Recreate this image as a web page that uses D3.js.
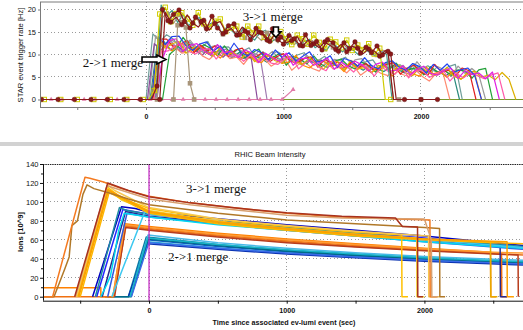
<!DOCTYPE html>
<html>
<head>
<meta charset="utf-8">
<script src="https://cdn.jsdelivr.net/npm/d3@7"></script>
<style>
  body { margin: 0; background: #fff; }
  svg { display: block; font-family: "Liberation Sans", Arial, sans-serif; }
  .grid line { stroke: #9a9a9a; stroke-dasharray: 1,2.5; shape-rendering: crispEdges; }
  .top-axis path, .top-axis line { stroke: #7a7a7a; }
  .bot-axis path, .bot-axis line { stroke: #111; }
  .tick text { fill: #111; }
  .merge { font-family: "Liberation Serif", "Times New Roman", serif; font-size: 13px; fill: #111; }
</style>
</head>
<body>
<svg id="chart" width="523" height="330"></svg>
<script>
// ---- axes / ticks
const timeTicks = [-500, 0, 500, 1000, 1500, 2000, 2500];
const timeLabelled = [0, 1000, 2000];
const rateTicks = [0, 5, 10, 15, 20];
const ionTicks = [0, 20, 40, 60, 80, 100, 120, 140];
const ionMinorTicks = [10, 30, 50, 70, 90, 110, 130];

// ---- STAR event trigger rate [Hz], one reading every `step` s from `start`
const rateBrown = [0,0,0,0,0,0,0,0,0,0,0,0,0,0,0,0,0,0,0,0,0,
  3,20.0,17.5,18.9,19.9,17.3,15.9,18.3,17.3,15.7,18.5,15.9,14.6,16.4,16.8,14.4,15.2,13.3,15.8,14.8,13.2,15.7,13.3,
  12.3,14.2,13.5,12.0,14.4,12.0,12.9,11.0,13.3,12.6,10.7,12.6,11.3,12.8,10.3,11.6,10.4,11.9,9.9,10.7,
  0,0,0,0,0,0,0,0,0];
const rateBrown2 = [0,19.4,17.2,18.3,16.6,18.8,17.0,16.1,17.6,15.4,16.9,17.3,15.0,15.8,14.3,16.1,14.9,13.8,15.0,14.4,
  12.9,14.6,13.9,12.6,13.1,14.0,11.9,13.2,12.4,11.5,12.8,12.0,11.1,12.3,10.6,11.8,11.4,10.2,11.2,10.8,9.6,10.9,10.1,0];
const rateYellow = [0,0,0,0,0,0,0,0,0,0,0,0,0,0,0,0,0,0,0,0,
  2,19.0,20.5,17.3,19.1,19.3,17.9,16.5,19.3,16.8,16.1,17.4,17.9,15.1,15.9,16.3,13.9,16.3,14.8,16.3,13.8,13.2,14.5,
  15.1,13.5,12.2,14.3,13.5,12.3,14.3,12.7,11.3,13.4,12.8,11.5,13.2,10.9,12.1,11.1,12.4,10.1,11.4,0,0];
const rateTeal = [0,21.0,18.6,19.8,17.1,18.9,16.4,17.7,18.2,15.6,16.9,17.4,14.8,16.2,15.1,13.9,16.0,14.3,13.2,14.9,
  15.4,12.8,13.6,14.1,12.2,13.7,11.9,12.9,13.4,11.5,12.4,10.8,12.6,11.7,10.6,11.9,10.9,9.8,11.3,10.4,9.6,10.8,10.0,0];
const rateTan = [0,18.2,19.6,16.9,18.8,17.6,15.8,18.0,17.1,15.2,16.9,15.9,14.5,16.6,14.9,15.3,13.7,15.6,14.2,13.1,
  14.8,13.6,12.6,14.1,13.0,12.2,13.8,11.9,12.7,12.3,11.2,12.9,11.6,10.9,12.1,11.0,11.5,10.3,11.7,10.6,9.9,11.0,10.2,
  0,0,0,0,0,0,0,0];
const rateTanShort = [0,16.5,17.2,16,3.6,0];
const rateBlue = [0,14.0,12.2,14.0,14.1,12.0,10.9,12.3,12.8,10.8,11.9,10.0,12.5,10.5,9.7,11.1,10.4,8.8,11.0,9.4,10.4,
  8.5,9.6,10.6,8.3,8.7,9.7,7.1,9.1,8.6,7.4,9.3,7.5,6.8,8.2,8.6,7.2,6.5,8.0,7.3,5.9,7.8,6.5,7.9,6.1,6.6,7.0,5.4,0];
const rateMagenta = [0,9,13.1,13.5,10.7,12.0,12.4,10.8,9.9,12.2,10.4,10.7,9.3,11.0,10.3,8.2,10.3,9.2,8.5,10.3,7.6,9.1,
  9.2,7.6,8.3,9.2,6.7,8.3,7.3,8.5,7.7,6.3,7.8,8.3,6.3,6.5,7.5,5.5,6.7,7.4,5.8,5.4,6.5,6.9,4.7,6.4,5.5,5.9,4.6,6.1,0];
const rateOrange = [0,13.6,11.9,10.8,12.3,12.3,10.3,12.3,10.3,10.5,9.2,10.8,10.3,8.9,10.7,8.8,8.2,9.9,9.1,8.0,8.3,9.8,
  7.6,7.0,8.4,8.7,7.4,7.7,6.2,8.3,6.7,7.6,6.0,7.1,7.8,5.2,6.5,7.0,5.7,5.2,7.2,5.7,6.2,4.9,6.5,4.5,5.6,5.9,0];
const rateGreen = [0,10,11.3,13.8,11.7,10.9,12.2,11.4,9.7,11.9,10.2,11.2,9.2,10.3,11.2,8.9,9.3,10.2,7.6,9.6,9.0,7.9,
  9.7,7.9,7.1,8.5,9.0,7.5,6.8,8.3,7.5,6.1,8.0,6.7,8.1,6.2,6.7,7.1,5.5,7.3,6.1,6.5,5.4,6.6,6.3,4.7,6.6,6.9,0];
const rateRed = [0,13.4,13.4,11.7,12.3,13.1,10.4,12.0,10.8,11.9,11.1,9.6,11.0,11.4,9.3,9.5,10.5,8.4,9.5,10.2,8.5,8.1,
  9.1,9.5,7.2,8.9,8.0,8.3,7.0,8.5,7.2,8.0,6.8,6.6,7.8,8.2,5.6,7.0,7.6,6.1,5.4,7.8,6.1,6.5,5.2,7.0,6.4,0];
const rateSalmon = [0,10.8,12.4,11.6,10.3,10.6,11.9,9.7,8.9,10.3,10.5,9.1,9.4,7.8,9.8,8.2,9.1,7.4,8.4,9.1,6.5,7.8,8.2,
  6.9,6.3,8.3,6.8,7.2,5.9,7.5,5.4,6.5,6.8,5.8,5.3,6.8,5.6,5.1,6.6,5.1,4.1,5.8,5.9,0];
const ratePurple = [0,12.4,11.0,12.9,11.6,10.5,12.1,10.8,9.9,11.4,10.6,9.4,10.9,9.8,9.1,10.3,0];
const rateMauve = [0,11.8,13.0,11.3,10.7,12.4,10.9,11.5,9.8,10.6,11.2,9.5,10.0,9.1,10.4,9.6,0];
const rateGray = [0,14.2,11.5,13.4,12.7,11.5,13.2,11.3,10.4,11.7,12.1,10.6,9.8,11.2,10.4,8.9,10.8,9.4,10.7,8.9,9.3,
  9.7,8.0,9.8,8.5,8.9,7.8,8.9,8.6,7.0,8.8,9.1,7.1,6.2,7.7,8.3,6.4,7.6,5.8,8.4,6.5,5.8,7.3,6.6,5.1,7.4,5.8,6.9,5.6,0];
const ratePink = [0,10.6,10.8,11.9,12.4,10.7,10.1,11.1,11.3,9.0,10.6,9.6,9.9,8.5,9.9,8.6,9.4,8.1,7.8,9.0,9.4,6.8,8.1,
  8.7,7.1,6.4,8.8,7.0,7.4,6.1,7.8,7.2,5.2,7.3,6.3,5.6,7.4,4.8,6.3,6.5,4.9,5.7,6.6,4.1,5.8,4.8,6.0,5.3,4.6,5.4,5.9,0];
const rateGold = [0,13.2,11.4,12.4,12.9,10.3,11.4,11.8,10.3,9.7,11.6,10.0,10.4,9.0,10.5,8.4,9.5,9.7,8.6,8.1,9.6,8.4,
  7.8,9.3,7.7,6.7,8.4,8.4,6.6,8.7,6.8,7.1,5.9,7.6,7.2,5.8,7.7,5.9,5.3,7.1,6.4,5.3,5.7,7.2,5.1,4.5,6.0,6.3,5.0,5.4,
  4.4,6.0,4.5,0];
const rateGrayTeal = [0,14.6,12.9,14.4,13.4,11.2,13.1,12.0,11.2,12.9,10.2,11.6,11.7,10.0,10.7,11.5,9.0,10.6,9.5,10.7,
  9.9,8.5,9.9,10.4,8.3,8.6,9.6,7.5,8.7,9.4,7.7,7.3,8.4,8.8,6.6,8.2,7.3,7.7,6.4,7.9,6.7,7.5,6.3,6.1,7.3,7.8,0];
const rateDarkTeal = [0,12.1,12.9,11.0,11.8,10.6,12.3,10.4,11.0,9.6,10.9,9.9,9.3,10.5,8.9,9.8,9.2,8.3,9.6,8.8,8.0,
  9.1,7.7,8.6,8.2,7.3,8.5,7.6,6.9,8.0,7.4,6.5,7.7,6.9,6.2,7.3,6.7,5.9,7.0,6.4,5.6,6.6,6.1,5.3,6.3,0];
const ratePinkZero = [0,0,0,0,0,0,0,0,0,0,0,0,0,0,0,0,0,0,0,0,0,0,0,2.2];
const rateOliveZero = [0,0];

const rateTraces = [
  { key: "pinkZero", start: -770, step: 80, lead: -770, values: ratePinkZero },
  { key: "oliveZero", start: 1000, step: 1742, lead: 1000, values: rateOliveZero },
  { key: "grayTeal", start: 0, step: 50, lead: -771, values: rateGrayTeal },
  { key: "darkTeal", start: 30, step: 50, lead: -771, values: rateDarkTeal },
  { key: "gray", start: 20, step: 50, lead: -771, values: rateGray },
  { key: "purple", start: 10, step: 50, lead: -771, values: ratePurple },
  { key: "mauve", start: 80, step: 50, lead: -771, values: rateMauve },
  { key: "salmon", start: 60, step: 50, lead: -771, values: rateSalmon },
  { key: "green", start: 120, step: 50, lead: -771, values: rateGreen },
  { key: "orange", start: 40, step: 50, lead: -771, values: rateOrange },
  { key: "red", start: 50, step: 50, lead: -771, values: rateRed },
  { key: "gold", start: 40, step: 50, lead: -771, values: rateGold },
  { key: "pink", start: 60, step: 50, lead: -771, values: ratePink },
  { key: "blue", start: 40, step: 50, lead: -771, values: rateBlue },
  { key: "magenta", start: 70, step: 50, lead: -771, values: rateMagenta },
  { key: "teal", start: 70, step: 40, lead: -771, values: rateTeal },
  { key: "tanShort", start: 200, step: 30, lead: 200, values: rateTanShort },
  { key: "tan", start: 80, step: 40, lead: -771, values: rateTan },
  { key: "yellow", start: -740, step: 40, lead: -771, values: rateYellow },
  { key: "brown2", start: 100, step: 40, lead: -771, values: rateBrown2 },
  { key: "brown", start: -760, step: 40, lead: -771, values: rateBrown }
];

// ---- RHIC beam intensity [10^9 ions], [time, ions] readings
const beamTraces = [
  // 2->1 merge fills
  [[-320,0],[-150,0],[-20,63],[500,55],[1000,49],[1500,44.5],[2000,40.5],[2500,37.5],[2716,36.5]],
  [[-145,0],[-15,60],[500,53],[1000,47.5],[1500,43],[2000,39.5],[2500,36.5],[2716,35.5]],
  [[-140,0],[-10,58],[500,51.5],[1000,46],[1500,42],[2000,38.5],[2500,35.5],[2716,34.5]],
  [[-150,0],[-12,56],[500,50],[1000,45],[1500,41],[2000,37.5],[2716,33.5]],
  [[-135,0],[-8,65],[500,57],[1000,51],[1500,46.5],[2000,42.5],[2500,39.5],[2716,38.5]],
  [[-300,0],[-130,0],[-5,61],[500,54],[1000,48],[1500,43.5],[2000,39.5],[2716,35.5]],
  [[-128,0],[-2,57],[500,51],[1000,46],[1500,42],[2000,38.5],[2716,34.5]],
  [[-138,0],[-10,62],[500,55],[1000,49.5],[1500,45],[2000,41],[2716,37]],
  // orange fills
  [[-770,9.5],[-350,9.5],[-350,0],[-262,0],[-178,77],[0,74],[500,67],[1000,61],[1500,56],[2000,51],[2480,47],[2482,0],[2520,0]],
  [[-770,0],[-258,0],[-172,75],[0,72],[500,65],[1000,59],[1500,54],[2000,50],[2500,46],[2560,45.5],[2562,0],[2600,0]],
  [[-255,0],[-168,74],[0,71],[500,64],[1000,58],[1500,53],[2000,49],[2716,44]],
  [[-250,0],[-172,73],[0,70],[500,63],[1000,57],[1500,52.5],[2000,48.5],[2680,44],[2682,0]],
  [[-262,0],[-176,76],[0,73],[500,66],[1000,60],[1500,55],[2000,50.5],[2500,47],[2716,46]],
  // blue / cyan fills
  [[-410,0],[-200,95],[-100,93],[0,89],[300,85],[600,81],[1000,76],[1500,70],[2000,64],[2500,57],[2716,54]],
  [[-380,0],[-190,92],[0,87],[500,80],[1000,74],[1500,68],[2000,62],[2500,55],[2716,52]],
  [[-340,0],[-170,90],[0,85],[500,78],[1000,72],[1500,66],[2000,60],[2550,53],[2552,0],[2600,0]],
  [[-300,0],[-160,88],[0,84],[500,77],[1000,70],[1500,64],[2000,58],[2716,50]],
  [[-390,0],[-215,94],[-160,91],[0,87],[500,80],[1000,73],[1500,67],[2000,61],[2716,53]],
  [[-350,0],[-310,12],[-280,22],[-250,45],[-220,70],[-180,88],[0,84],[500,76],[1000,70],[1500,64],[2000,58],[2716,51]],
  [[-270,0],[-30,90],[0,87],[500,79],[1000,72],[1500,66],[2000,60],[2716,52]],
  // 3->1 merge fills
  [[-530,0],[-305,116],[-200,104],[0,93],[300,86],[600,80],[1000,74],[1500,68],[1835,65],[1837,0],[1880,0]],
  [[-520,0],[-300,114],[-200,102],[0,91],[300,84],[600,78],[1000,72],[1500,66],[1944,62],[1946,0],[2000,0]],
  [[-510,0],[-295,112],[0,89],[500,78],[1000,71],[1500,65],[2000,61],[2480,58],[2482,0],[2530,0]],
  [[-500,0],[-290,110],[0,88],[500,77],[1000,70],[1500,64],[2000,60],[2500,57],[2716,56]],
  [[-525,0],[-300,118],[-250,112],[0,94],[500,82],[1000,75],[1500,69],[2030,64],[2032,0],[2110,0]],
  [[-515,0],[-298,113],[0,90],[500,79],[1000,72],[1500,66],[2000,61],[2600,58],[2602,0],[2650,0]],
  [[-770,0],[-690,0],[-610,30],[-580,42],[-560,75],[-520,80],[-480,108],[-450,118],[-400,114],[-300,110],[-150,103],[0,97],[500,88],[1000,81],[1500,77],[2000,73],[2110,72],[2112,0],[2150,0]],
  [[-770,0],[-700,0],[-465,126],[-430,125],[-330,121],[-200,114],[0,106],[300,99],[600,94],[1000,88],[1400,84],[1800,82],[2040,81],[2042,0],[2090,0]],
  [[-535,0],[-305,117],[0,103],[300,97],[600,92],[1000,86],[1400,83],[2000,82],[2050,60],[2054,0],[2100,0]],
  [[-540,0],[-300,120],[-150,112],[0,105.5],[300,99],[600,94],[1000,88.5],[1400,85],[1790,83],[1840,74],[1950,73.5],[1952,0],[1990,0]]
];

// ---- styles (kept apart from the data)
const rateStyle = {
  pinkZero: { color: "#e07aa8", marker: "tri" },
  oliveZero: { color: "#7a9a2a" },
  grayTeal: { color: "#6f9e9a" }, darkTeal: { color: "#2a8a7c" }, gray: { color: "#9a9a9a" },
  purple: { color: "#8a4a9a" }, mauve: { color: "#a07ab0" }, salmon: { color: "#ff8a70" },
  green: { color: "#22a038" }, orange: { color: "#ff8c00" }, red: { color: "#e02020" },
  gold: { color: "#dcb000" }, pink: { color: "#ff5aaa" }, blue: { color: "#2244ee" },
  magenta: { color: "#e020e0" }, teal: { color: "#3f9a88" },
  tanShort: { color: "#a8957a", marker: "sq" }, tan: { color: "#a8957a", marker: "sq", every: 4 },
  yellow: { color: "#d0cc00", marker: "open", zeroEvery: 3 },
  brown2: { color: "#8b1a1a", marker: "dot", every: 2, zeroEvery: 1000 },
  brown: { color: "#8b1a1a", marker: "dot", zeroEvery: 3 }
};
const beamColors = [
  "#0a7ea0", "#1060c8", "#20a8d8", "#0a32b0", "#48b8e8", "#006a88", "#3a6ae8", "#18b4c8",
  "#ff8000", "#f07010", "#e8701c", "#b83c1c", "#ff9c34",
  "#0000c0", "#2424ff", "#28288c", "#3058e0", "#1e8ca0", "#00d8f0", "#3cc8f0",
  "#ffc000", "#f2d030", "#e8a800", "#ffb400", "#f7c850", "#ffa000",
  "#b07828", "#f47a20", "#d8a070", "#a8321e"
];

const svg = d3.select("#chart");

// ================= top panel: STAR event trigger rate
const xTop = d3.scaleLinear().domain([-771, 2742]).range([40, 523]);
const yTop = d3.scaleLinear().domain([-1.67, 21.67]).range([107, 2]);

svg.append("clipPath").attr("id", "clipTop").append("rect")
  .attr("x", 40).attr("y", 2).attr("width", 483).attr("height", 105);

const gridTop = svg.append("g").attr("class", "grid");
gridTop.selectAll(".h").data(rateTicks.filter(d => d > 0)).enter().append("line")
  .attr("x1", 40).attr("x2", 523).attr("y1", d => yTop(d)).attr("y2", d => yTop(d));
gridTop.selectAll(".v").data(timeLabelled).enter().append("line")
  .attr("x1", d => xTop(d)).attr("x2", d => xTop(d)).attr("y1", 2).attr("y2", 107);

const topPlot = svg.append("g").attr("clip-path", "url(#clipTop)");
const rateLine = d3.line().x(d => xTop(d[0])).y(d => yTop(d[1]));

rateTraces.forEach(tr => {
  const st = rateStyle[tr.key];
  const pts = tr.values.map((v, i) => [tr.start + i * tr.step, v]);
  const path = tr.lead < tr.start ? [[tr.lead, 0]].concat(pts) : pts;
  topPlot.append("path").datum(path)
    .attr("fill", "none").attr("stroke", st.color).attr("stroke-width", 1.2)
    .attr("stroke-linejoin", "round").attr("d", rateLine);
  if (!st.marker) return;
  const marks = pts.filter((d, i) => d[1] === 0
    ? i % (st.zeroEvery || st.every || 1) === 0
    : i % (st.every || 1) === 0);
  const g = topPlot.append("g");
  if (st.marker === "dot") {
    g.selectAll("circle").data(marks).enter().append("circle")
      .attr("cx", d => xTop(d[0])).attr("cy", d => yTop(d[1])).attr("r", 2.3)
      .attr("fill", st.color).attr("stroke", "#5c0c0c").attr("stroke-width", 0.4);
  } else if (st.marker === "open") {
    g.selectAll("rect").data(marks).enter().append("rect")
      .attr("x", d => xTop(d[0]) - 2.2).attr("y", d => yTop(d[1]) - 2.2)
      .attr("width", 4.4).attr("height", 4.4)
      .attr("fill", "none").attr("stroke", st.color).attr("stroke-width", 1);
  } else if (st.marker === "sq") {
    g.selectAll("rect").data(marks).enter().append("rect")
      .attr("x", d => xTop(d[0]) - 2.3).attr("y", d => yTop(d[1]) - 2.3)
      .attr("width", 4.6).attr("height", 4.6).attr("fill", st.color);
  } else if (st.marker === "tri") {
    g.selectAll("path").data(marks).enter().append("path")
      .attr("d", d3.symbol().type(d3.symbolTriangle).size(10))
      .attr("transform", d => `translate(${xTop(d[0])},${yTop(d[1])})`)
      .attr("fill", st.color);
  }
});

// top axes
svg.append("line").attr("x1", 40).attr("x2", 523).attr("y1", 2).attr("y2", 2)
  .attr("stroke", "#7a7a7a");
svg.append("g").attr("class", "top-axis")
  .attr("transform", "translate(0,107)")
  .call(d3.axisBottom(xTop).tickValues(timeTicks).tickSize(3).tickPadding(4)
    .tickFormat(d => timeLabelled.includes(d) ? d : ""))
  .call(g => g.selectAll("text").attr("font-size", 7).attr("font-weight", "bold"))
  .call(g => g.select(".domain").attr("d", "M40,0.5H523"));
svg.append("g").attr("class", "top-axis")
  .attr("transform", "translate(40,0)")
  .call(d3.axisLeft(yTop).tickValues(rateTicks).tickSize(2).tickPadding(2))
  .call(g => g.selectAll("text").attr("font-size", 7.5))
  .call(g => g.select(".domain").attr("d", "M0.5,2V107"));

svg.append("text").attr("transform", "translate(23,55) rotate(-90)")
  .attr("text-anchor", "middle").attr("font-size", 7.6).attr("fill", "#111")
  .text("STAR event trigger rate [Hz]");

// top annotations (placed in data coordinates)
svg.append("text").attr("class", "merge").attr("x", xTop(703)).attr("y", yTop(17.38)).text("3->1 merge");
svg.append("text").attr("class", "merge").attr("x", xTop(-460)).attr("y", yTop(7.33)).text("2->1 merge");
{
  const x0 = xTop(-29), x1 = xTop(145), cy = yTop(8.9), hx = x1 - 9;
  svg.append("path")
    .attr("d", `M${x0},${cy - 2.5}H${hx}V${cy - 4.5}L${x1},${cy}L${hx},${cy + 4.5}V${cy + 2.5}H${x0}Z`)
    .attr("fill", "#fff").attr("stroke", "#000").attr("stroke-width", 1.6);
  const cx = xTop(945), y0 = yTop(16.1), y1 = yTop(13.8), hy = y1 - 5.5;
  svg.append("path")
    .attr("d", `M${cx - 2.5},${y0}V${hy}H${cx - 5}L${cx},${y1}L${cx + 5},${hy}H${cx + 2.5}V${y0}Z`)
    .attr("fill", "#fff").attr("stroke", "#000").attr("stroke-width", 1.6);
}

// separator band
svg.append("rect").attr("x", 0).attr("y", 142).attr("width", 523).attr("height", 4).attr("fill", "#d2d2d2");

// ================= bottom panel: RHIC beam intensity
const xBot = d3.scaleLinear().domain([-770, 2716]).range([43, 523]);
const yBot = d3.scaleLinear().domain([-4.2, 140]).range([300.7, 164]);

svg.append("text").attr("x", 270).attr("y", 156.5).attr("text-anchor", "middle")
  .attr("font-size", 7.6).attr("fill", "#111").text("RHIC Beam Intensity");

svg.append("clipPath").attr("id", "clipBot").append("rect")
  .attr("x", 43).attr("y", 164).attr("width", 480).attr("height", 137);

const gridBot = svg.append("g").attr("class", "grid");
gridBot.selectAll(".h").data(ionTicks.filter(d => d < 140)).enter().append("line")
  .attr("x1", 43).attr("x2", 523).attr("y1", d => yBot(d)).attr("y2", d => yBot(d));
gridBot.selectAll(".v").data(timeLabelled).enter().append("line")
  .attr("x1", d => xBot(d)).attr("x2", d => xBot(d)).attr("y1", 164).attr("y2", 300);

const botPlot = svg.append("g").attr("clip-path", "url(#clipBot)");
const beamLine = d3.line().x(d => xBot(d[0])).y(d => yBot(d[1]));
botPlot.selectAll("path.beam").data(beamTraces).enter().append("path")
  .attr("class", "beam").attr("fill", "none")
  .attr("stroke", (d, i) => beamColors[i]).attr("stroke-width", 1.5)
  .attr("stroke-linejoin", "round").attr("d", beamLine);

// t = 0 marker
svg.append("line").attr("x1", xBot(0)).attr("x2", xBot(0)).attr("y1", 164).attr("y2", 300.7)
  .attr("stroke", "#c020c0").attr("stroke-width", 1.2);

// bottom axes
svg.append("line").attr("x1", 43).attr("x2", 523).attr("y1", 164.5).attr("y2", 164.5)
  .attr("stroke", "#222").attr("stroke-dasharray", "1.5,0.8");
svg.append("g").attr("class", "bot-axis")
  .attr("transform", "translate(0,300.7)")
  .call(d3.axisBottom(xBot).tickValues(timeTicks).tickSize(3).tickPadding(4)
    .tickFormat(d => timeLabelled.includes(d) ? d : ""))
  .call(g => g.selectAll("text").attr("font-size", 7.2).attr("font-weight", "bold"))
  .call(g => g.select(".domain").attr("d", "M43,0.5H523"));
svg.append("g").attr("class", "bot-axis")
  .attr("transform", "translate(43,0)")
  .call(d3.axisLeft(yBot).tickValues(ionTicks).tickSize(3).tickPadding(1.5))
  .call(g => g.selectAll("text").attr("font-size", 7.5))
  .call(g => g.select(".domain").attr("d", "M0.5,164V300.7"));
svg.append("g").attr("class", "bot-axis")
  .attr("transform", "translate(43,0)")
  .call(d3.axisLeft(yBot).tickValues(ionMinorTicks).tickSize(2).tickFormat(""))
  .call(g => g.select(".domain").remove());

svg.append("text").attr("transform", "translate(23,232) rotate(-90)")
  .attr("text-anchor", "middle").attr("font-size", 7.6).attr("font-weight", "bold").attr("fill", "#111")
  .text("Ions [10^9]");
svg.append("text").attr("x", 284).attr("y", 324.5).attr("text-anchor", "middle")
  .attr("font-size", 7.2).attr("font-weight", "bold").attr("fill", "#111")
  .text("Time since associated ev-lumi event (sec)");

svg.append("text").attr("class", "merge").attr("x", xBot(269)).attr("y", yBot(108.9)).text("3->1 merge");
svg.append("text").attr("class", "merge").attr("x", xBot(138)).attr("y", yBot(37.7)).text("2->1 merge");
</script>
</body>
</html>
